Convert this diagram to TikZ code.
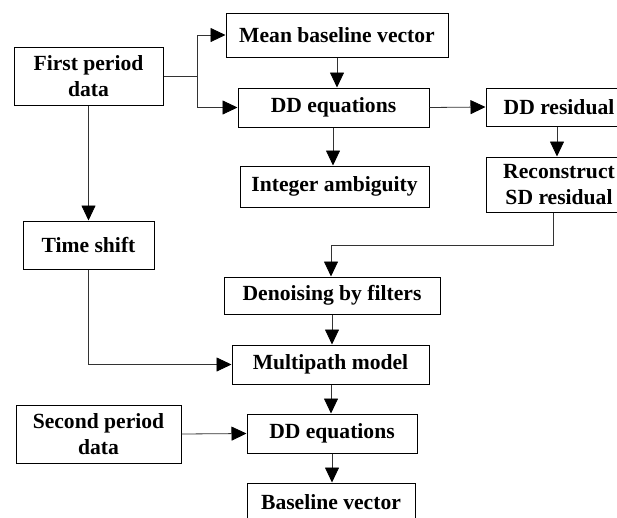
\documentclass[tikz,border=0pt]{standalone}
\usepackage{fontspec}
\setmainfont{Liberation Serif}
\usetikzlibrary{positioning,arrows.meta}

\begin{document}
\begin{tikzpicture}[
  x=1pt, y=-1pt,
  box/.style={draw, line width=1pt, inner sep=0pt, align=center,
    font=\fontsize{21.6}{26}\selectfont\bfseries},
  flow/.style={draw=black!80, line width=0.8pt, -{Triangle[length=15pt,width=14pt,color=black]}},
  wire/.style={draw=black!80, line width=0.8pt}
]
\useasboundingbox (0,0) rectangle (617,517);

% left column
\node[box, minimum width=149pt, minimum height=58pt] (first) at (88.5,76) {First period\\data};
\node[box, minimum width=131pt, minimum height=48pt] (shift) at (88.5,245) {Time shift};
\node[box, minimum width=165pt, minimum height=58pt] (second) at (98.5,434) {Second period\\data};

% middle column
\node[box, minimum width=222pt, minimum height=44pt] (mean) at (337,35) {Mean baseline vector};
\node[box, minimum width=191pt, minimum height=39pt] (ddeq) at (333.5,107.5) {DD equations};
\node[box, minimum width=189pt, minimum height=41pt] (amb) at (334.5,186.5) {Integer ambiguity};
\node[box, minimum width=216pt, minimum height=37pt] (denoise) at (332,295.5) {Denoising by filters};
\node[box, minimum width=197pt, minimum height=39pt] (multi) at (330.5,364.5) {Multipath model};
\node[box, minimum width=170pt, minimum height=39pt] (ddeqb) at (332,433.5) {DD equations};
\node[box, minimum width=168pt, minimum height=39pt] (base) at (331,502.5) {Baseline vector};

% right column (cut by the page edge)
\node[box, minimum width=146pt, minimum height=38pt] (ddres) at (559,107) {DD residual};
\node[box, minimum width=146pt, minimum height=55pt] (recon) at (559,184.5) {Reconstruct\\SD residual};

\coordinate (split) at (197,76);
\coordinate (turn) at (553,245);

\path[wire] (first.east) -- (split);
\path[flow] (split) |- (mean.west);
\path[flow] (split) |- (ddeq.west);
\path[flow] (mean.south -| 337,0) -- (ddeq.north -| 337,0);
\path[flow] (ddeq.south -| 333,0) -- (amb.north -| 333,0);
\path[flow] (ddeq.east) -- (ddres.west);
\path[flow] (ddres.south -| 557,0) -- (recon.north -| 557,0);
\path[flow] (recon.south -| turn) -- (turn) -| (denoise.north -| 331,0);
\path[flow] (first.south) -- (shift.north);
\path[flow] (shift.south) |- (multi.west);
\path[flow] (denoise.south -| 332,0) -- (multi.north -| 332,0);
\path[flow] (multi.south -| 331,0) -- (ddeqb.north -| 331,0);
\path[flow] (second.east) -- (ddeqb.west);
\path[flow] (ddeqb.south -| 332,0) -- (base.north -| 332,0);

\end{tikzpicture}
\end{document}
